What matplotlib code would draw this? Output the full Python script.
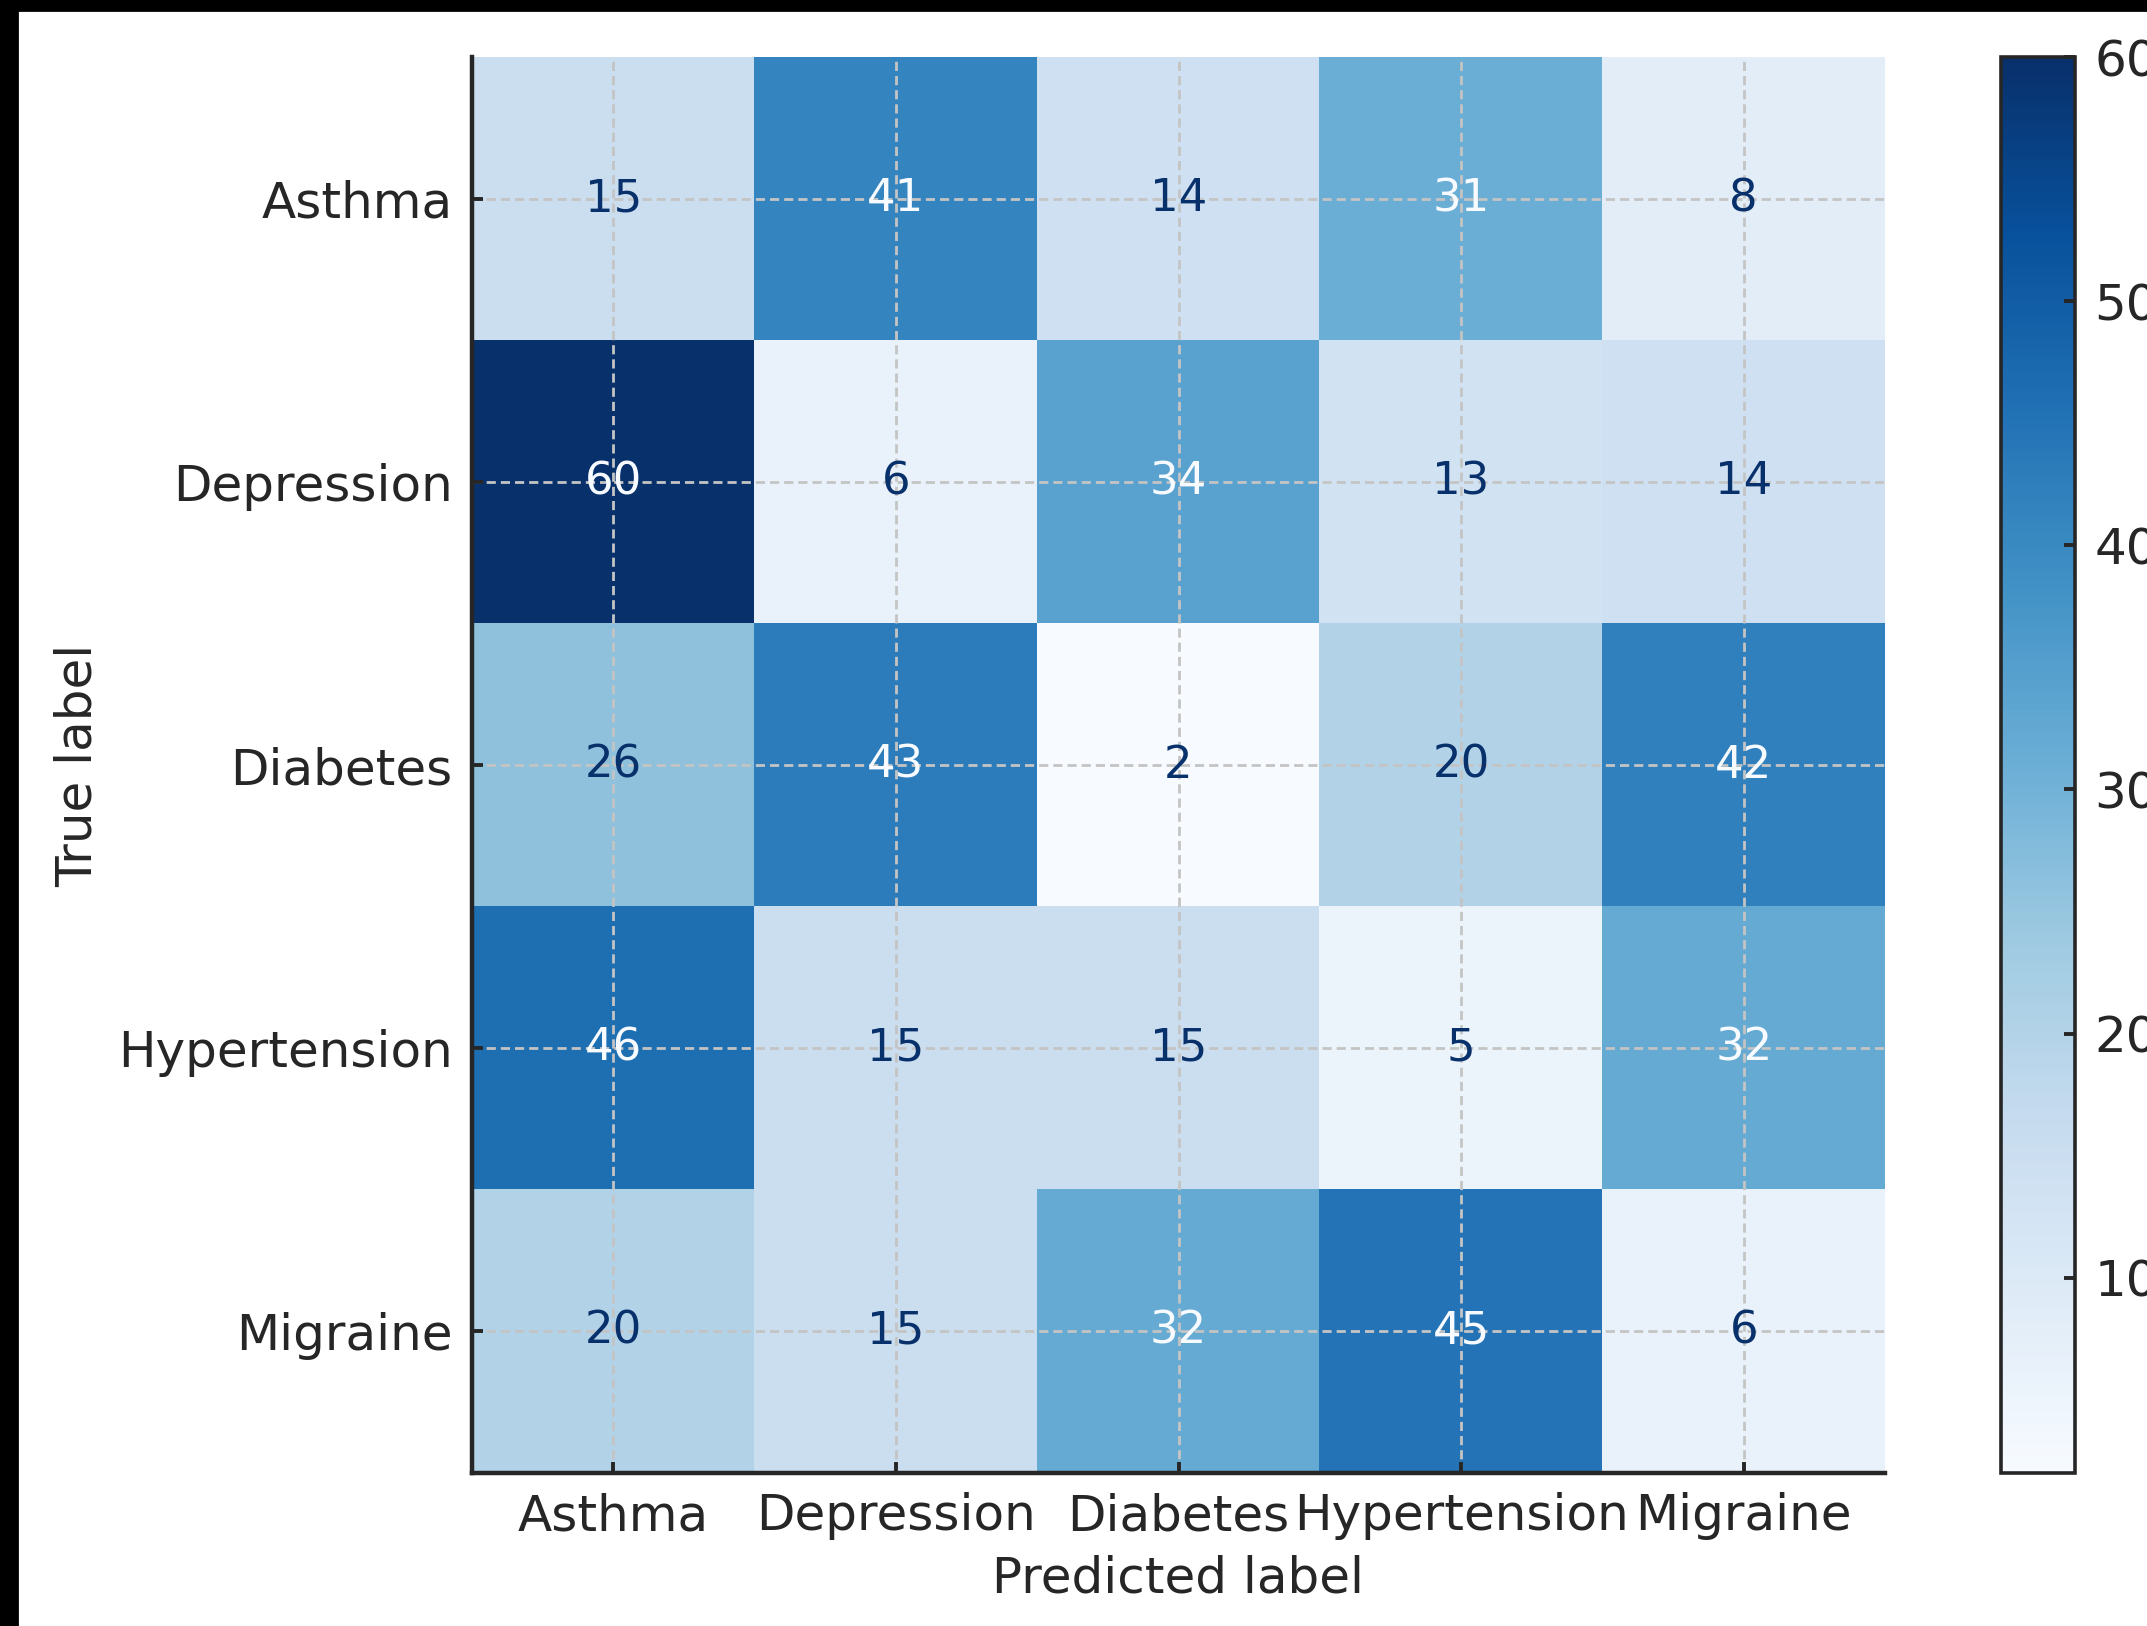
import matplotlib
matplotlib.use("Agg")
import matplotlib.pyplot as plt
import numpy as np
from matplotlib.patches import Rectangle

classes = ["Asthma", "Depression", "Diabetes", "Hypertension", "Migraine"]
row_asthma = [15, 41, 14, 31, 8]
row_depression = [60, 6, 34, 13, 14]
row_diabetes = [26, 43, 2, 20, 42]
row_hypertension = [46, 15, 15, 5, 32]
row_migraine = [20, 15, 32, 45, 6]
cbar_ticks = [10, 20, 30, 40, 50, 60]

cm = np.array([row_asthma, row_depression, row_diabetes, row_hypertension, row_migraine])

W, H, DPI = 2147, 1626, 200
fig = plt.figure(figsize=(W / DPI, H / DPI), dpi=DPI, facecolor="white")
text_color = "#262626"

ax = fig.add_axes([472 / W, (H - 1473) / H, (1885 - 472) / W, (1473 - 57) / H])
cax = fig.add_axes([2001 / W, (H - 1473) / H, 74 / W, (1473 - 57) / H])

cmap = plt.get_cmap("Blues")
im = ax.imshow(cm, cmap=cmap, interpolation="nearest", aspect="auto",
               vmin=cm.min(), vmax=cm.max())

thresh = (cm.max() + cm.min()) / 2.0
cmap_min, cmap_max = cmap(0.0), cmap(1.0)
for i in range(cm.shape[0]):
    for j in range(cm.shape[1]):
        color = cmap_max if cm[i, j] < thresh else cmap_min
        ax.text(j, i, str(cm[i, j]), ha="center", va="center", color=color,
                fontsize=16.2, zorder=5)

ax.set_xticks(range(len(classes)))
ax.set_yticks(range(len(classes)))
ax.set_xticklabels(classes, fontsize=18.0, color=text_color)
ax.set_yticklabels(classes, fontsize=18.0, color=text_color)
ax.set_xlabel("Predicted label", fontsize=18.0, color=text_color, labelpad=5)
ax.set_ylabel("True label", fontsize=18.0, color=text_color, labelpad=6)
ax.tick_params(direction="in", length=4, width=1.4, color=text_color, pad=7)
ax.grid(True, linestyle="--", color="#c4c4c4", linewidth=1.0, dashes=(3.3, 1.8))
ax.set_axisbelow(False)
for s in ["top", "right"]:
    ax.spines[s].set_visible(False)
for s in ["left", "bottom"]:
    ax.spines[s].set_linewidth(1.6)
    ax.spines[s].set_color(text_color)

cb = fig.colorbar(im, cax=cax)
cb.set_ticks(cbar_ticks)
cb.ax.tick_params(direction="in", length=4, width=1.4, color=text_color,
                  labelsize=18.0, labelcolor=text_color, pad=7)
cb.outline.set_linewidth(1.3)
cb.outline.set_edgecolor(text_color)

# black frame at top and left edges of the reference image
fig.add_artist(Rectangle((0, 1 - 10 / H), 1, 10 / H, transform=fig.transFigure,
                         color="black", zorder=10))
fig.add_artist(Rectangle((0, 0), 17 / W, 1, transform=fig.transFigure,
                         color="black", zorder=10))

fig.savefig("out.png", dpi=DPI, facecolor="white")
